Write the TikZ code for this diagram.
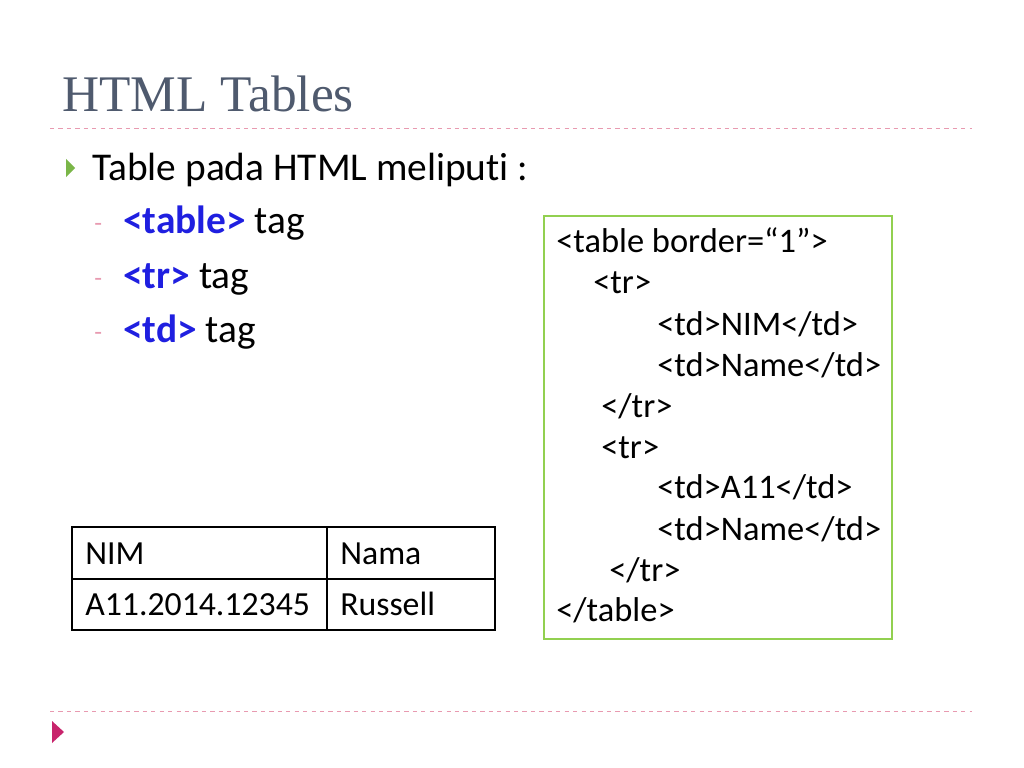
\documentclass[tikz,border=0pt]{standalone}
\usepackage{fontspec}
\setmainfont[Ligatures={NoCommon}]{Carlito}
\newfontfamily\titlefont{Liberation Serif}
\usetikzlibrary{positioning}
\definecolor{titlegray}{HTML}{4F5A6E}
\definecolor{rulepink}{HTML}{E89AB0}
\definecolor{boxgreen}{HTML}{92D050}
\definecolor{tagblue}{HTML}{1F1FE0}
\definecolor{arrowgreen}{HTML}{7AB648}
\definecolor{arrowpink}{HTML}{C8246C}
\tikzset{
  codeline/.style={anchor=base west, inner sep=0pt, font=\fontsize{24.5}{28}\selectfont},
  itemline/.style={anchor=base west, inner sep=0pt, font=\fontsize{28}{32}\selectfont},
  cell/.style={anchor=base west, inner sep=0pt, font=\fontsize{24}{28}\selectfont}
}
\newcommand{\tagname}[1]{\textcolor{tagblue}{\textbf{#1}}}
\begin{document}
\begin{tikzpicture}[x=0.025cm,y=-0.025cm]
            \fill[white] (0,0) rectangle (1024,768);
            \useasboundingbox (0,0) rectangle (1024,768);
            % rules
            \draw[rulepink, dashed, line width=0.6pt] (50,128) -- (972,128);
            \draw[rulepink, dashed, line width=0.6pt] (50,711) -- (972,711);
            % title
            \node[anchor=base west, inner sep=0pt, text=titlegray, font=\titlefont\fontsize{36.5}{40}\selectfont] (title) at (62,112) {HTML Tables};
            % bullets
            \fill[arrowgreen] (66,159) -- (75,168) -- (66,177) -- cycle;
            \node[itemline] (intro) at (92,180) {Table pada HTML meliputi :};
            \foreach \y/\t/\n in {233/table/itable, 288/tr/itr, 342/td/itd} {
              \node[anchor=base west, inner sep=0pt, text=rulepink, font=\fontsize{18}{20}\selectfont] at (94,\y-2) {-};
              \node[itemline] (\n) at (123,\y) {\tagname{<\t>} tag};
            }
            % code box
            \draw[boxgreen, line width=1.5pt] (544,216) rectangle (892,639);
            \node[codeline] (c1) at (556,252) {<table border=“1”>};
            \node[codeline] (c2) at (593,293) {<tr>};
            \node[codeline] (c3) at (657,335) {<td>NIM</td>};
            \node[codeline] (c4) at (657,376) {<td>Name</td>};
            \node[codeline] (c5) at (601,417) {</tr>};
            \node[codeline] (c6) at (601,458) {<tr>};
            \node[codeline] (c7) at (657,498) {<td>A11</td>};
            \node[codeline] (c8) at (657,540) {<td>Name</td>};
            \node[codeline] (c9) at (609,581) {</tr>};
            \node[codeline] (c10) at (556,621) {</table>};
            % rendered table
            \draw[line width=1pt] (72,527) rectangle (495,630);
            \draw[line width=1pt] (72,579) -- (495,579);
            \draw[line width=1pt] (327,527) -- (327,630);
            \node[cell] (h1) at (85,564) {NIM};
            \node[cell] (h2) at (340,564) {Nama};
            \node[cell] (d1) at (85,615) {A11.2014.12345};
            \node[cell] (d2) at (340,615) {Russell};
            % corner mark
            \fill[arrowpink] (52,721) -- (64,732) -- (52,743) -- cycle;
        \end{tikzpicture}
\end{document}
